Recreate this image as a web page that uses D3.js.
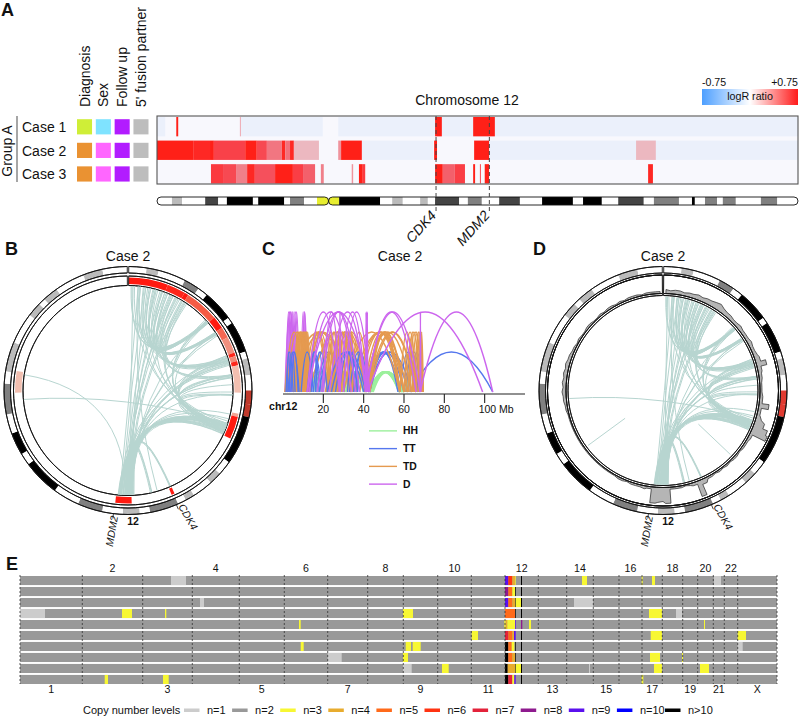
<!DOCTYPE html>
<html><head><meta charset="utf-8">
<script src="https://cdnjs.cloudflare.com/ajax/libs/d3/7.8.5/d3.min.js"></script>
<style>
html,body{margin:0;padding:0;background:#fff}
svg{display:block}
text{font-family:"Liberation Sans",Arial,sans-serif;fill:#111}
</style></head><body>
<svg id="c" width="800" height="717"></svg>
<script>
// ---------- Panel A data ----------
const cases = ["Case 1","Case 2","Case 3"];
const annotationColumns = ["Diagnosis","Sex","Follow up","5' fusion partner"];
const annotationColors = [
  ["#cfee37","#7fe3ff","#b21cff","#bdbdbd"],
  ["#ea9232","#ff66ff","#b21cff","#bdbdbd"],
  ["#ea9232","#ff66ff","#b21cff","#bdbdbd"]];
// [start Mb, end Mb, logR]
const case1Segments = [[0,1.7,-.05],[17.4,34.4,-.05],[37.6,133,-.05],[4,4.4,.75],[17.2,17.4,.25],[57.7,59.1,.75],[65.6,70.1,.75]];
const case2Segments = [[42.5,57.3,-.05],[68.9,133,-.05],[0,7.5,.75],[7.5,11,.72],[11,11.8,.75],[11.8,18.3,.6],[18.3,20.7,.75],[20.7,22.8,.55],[22.8,25.9,.38],[25.9,26.6,.72],[26.6,27.6,.4],[27.6,28.4,.72],[28.4,33.6,.2],[37.6,38.2,.3],[38.2,42.5,.75],[57.5,58.1,.75],[65.8,68.9,.75],[99.4,103.5,.2]];
const case3Segments = [[11.2,13.7,.65],[13.7,16.4,.55],[16.4,18.7,.35],[18.7,20.3,.72],[20.3,24.5,.5],[24.5,28.2,.75],[28.2,30.3,.62],[30.3,32.8,.45],[34,34.6,.35],[40.4,40.7,.3],[41.9,42.7,.75],[42.7,43.2,.65],[57.7,59.3,.75],[59.3,61.8,.45],[61.8,63.9,.62],[65.6,66,.75],[67,67.2,.6],[68,68.9,.75],[101.9,102.9,.72]];
// cytobands of chromosome 12: [start Mb, end Mb, stain]
const cytobands = [[0,3.1,"w"],[3.1,5.2,"g1"],[5.2,10,"w"],[10,12.7,"g3"],[12.7,14.5,"w"],[14.5,19.9,"k"],[19.9,21,"w"],[21,26.4,"k"],[26.4,27.6,"w"],[27.6,30.5,"g2"],[30.5,33.2,"w"],[33.2,35.6,"c"],[35.6,37.8,"c"],[37.8,46.3,"k"],[46.3,48.8,"w"],[48.8,51,"g1"],[51,54.6,"w"],[54.6,56.2,"g1"],[56.2,57.7,"w"],[57.7,62.7,"g3"],[62.7,64.5,"w"],[64.5,67.4,"g2"],[67.4,71,"w"],[71,75.3,"g3"],[75.3,79.9,"w"],[79.9,86.3,"k"],[86.3,88.4,"w"],[88.4,92.3,"k"],[92.3,95.7,"w"],[95.7,101,"g3"],[101,103.1,"w"],[103.1,108.3,"g2"],[108.3,111,"w"],[111,111.6,"k"],[111.6,113.7,"w"],[113.7,116.2,"g2"],[116.2,117.4,"w"],[117.4,120.1,"g2"],[120.1,125.3,"w"],[125.3,128.7,"g2"],[128.7,133,"w"]];
const centromereMb = 35.6, chr12Length = 133, cdk4Mb = 58, mdm2Mb = 69;

// ---------- Panels B / D data: rearrangement links [Mb, Mb] ----------
const linksFan = [[0.5,18],[0.7,18.3],[0.9,66],[1.9,17.8],[2.4,18.1],[2.4,21],[3.5,18],[3.5,20.8],[3.9,27],[4.5,18.2],[4.5,21.2],[5,26.5],[5.5,18],[5.5,21],[6,27],[6.5,18.4],[7,20.9],[7,26.8],[7.5,18],[8.1,21.3],[8.1,30],[8.6,18.2],[9.3,20.7],[9.3,27.2],[9.8,30.2],[10.2,21],[10.5,26.3],[10.8,18],[11.2,27.5],[11.4,40.5],[11.8,30.5],[12.2,41],[12.5,26.6],[1.2,40.8],[3,41.5],[5.2,40],[6.8,66],[8.8,66.5],[10,67],[4.2,65.5],[2.2,60.5],[7.8,41.8]];
const linksMid = [[17.5,40.5],[17.8,41],[18.3,41.5],[21,40.8],[21.5,66],[26,41],[26.5,41.3],[27,41.5],[27.3,67],[27.6,65.8],[27.8,40.5],[30,41],[30.2,41.7],[30.5,66.5],[32,41.8],[34,40.2],[34.2,42],[33.5,39.5]];
const linksToMdm2 = [[40,65.8],[40.3,66],[40.6,66.3],[40.9,66.5],[41.2,66.8],[41.5,67],[41.8,67.2],[42,67.5],[42.2,67.8],[41,66],[40.5,68],[41.7,68.4],[42.3,65.5],[12,65.8],[11.5,66.2],[9,66.6],[7.5,67],[5.7,67.4],[3.2,67.8],[2,68.2],[27,65.5],[30,65.9],[34,66.3],[38,66.7],[39,67.1],[30.6,67.5],[28,67.9],[26,68.3],[21,65.6],[40,68.1],[18,65.3],[41,68.5],[40.5,68],[57.7,66],[57.8,67.5],[57.6,65.8],[61.7,67],[61.6,66.5],[61.9,68]];
const linksLeftB = [[103,67],[40,98]];
const linksLeftD = [[40,98]];
const stubsD = [[86.4,0.5],[49.3,0.52]]; // [Mb, inner radius fraction]
// read depth around the ring in D, one value per Mb bin
const coverage = [4,3,4,4,3,4,4,5,4,5,5,6,7,5,4,4,3,3,4,3,3,3,4,3,3,4,5,10,4,3,3,2,2,2,3,3,10,3,3,6,10,15,17,3,2,2,2,1,2,2,1,2,1,2,1,2,2,5,16,3,2,1,2,2,2,16,14,15,16,2,3,2,2,2,1,2,2,1,1,1,1,1,1,1,1,1,1,1,1,1,1,1,1,1,1,2,2,3,3,4,3,4,3,4,3,4,3,3,2,2,1,2,1,1,2,2,1,1,2,1,2,2,1,2,1,2,2,2,1,2,2,2,2];

// ---------- Panel C data: arcs [Mb, Mb] per orientation ----------
const arcTypes = ["HH","TT","TD","D"];
const arcColors = {HH:"#9cf09c",TT:"#5577ee",TD:"#e59a50",D:"#cc66ee"};
const arcLevels = {HH:1,TT:2,TD:3,D:4};
const arcWidths = {HH:2,TT:1.4,TD:1.6,D:1.5};
const arcsHH = [[1,12],[3,14],[5,17],[8,18],[9,17.5],[12,20],[13,24],[15,25],[18,29],[19,26],[22,34],[24,36],[27,40],[28,41],[29,41.5],[30,41],[31,42],[43,58],[42.5,58.3],[43.6,58.6],[43,57.6],[43.3,57.5],[42.8,59.2],[44,59],[42.6,59.5],[44.6,58],[43,60],[60,66],[61,67]];
const arcsTTUnder = [[17,28],[18,29],[20,27],[41,58],[42,58],[43,57],[42,60],[43,62],[42,64],[58,66],[60,65],[61,67],[62,68],[63,66],[64,69],[65,67.5],[63,104]];
const arcsTTOver = [[1.5,5],[2,3.5],[2.5,8],[3,6],[4,7.5],[9,15],[12,19],[13,18],[14,17],[15,22],[16,20],[22,40],[24,41],[26,38],[28,36],[30,36],[32,37],[33,42],[35,42],[36,41]];
const arcsTD = [[1,10],[2,12],[5,11],[5.5,12],[6,8],[6,11],[6.5,9],[7,10],[7,12],[7.5,11],[8,10],[8,13],[8.5,12],[9,11],[9,13.5],[9.5,12],[10,13],[10,13.5],[10.5,12.5],[11,13.5],[11,22],[12,23],[12,27],[13,24],[13,22],[22,25],[23,28],[24,30],[25,29],[26,30],[27,34],[21,41],[22,28],[24,41],[25,34],[26,33.5],[27,41],[28,33],[30,34],[32,34],[33,34.5],[33.2,34.8],[33.4,35],[33.6,42],[34,62],[36,60],[38,58],[40,64],[41,60],[42,60],[42,58],[43,58],[42,66],[40,58],[43,66],[58,65],[60,66],[61,68],[62,69],[63,65],[64,68.5],[65,69.5],[66,69],[67,69.3],[68,69.5],[2,34],[5,34],[13,41],[30,58]];
const arcsDNarrow = [[1.5,4],[2,4.5],[2.5,5],[3,6],[3.5,5.5],[4,7],[5,7.5],[5.5,8],[9,11],[9.5,12],[10,11.5],[1,6]];
const arcsDWide = [[12,28],[13,34],[17,38],[20,28.2],[23,41],[28,41],[19,36],[12,43],[41,68],[41.3,66],[28.1,28.4],[41,41.4],[41.3,41.8],[41.6,42],[68,68.3],[42,99],[68,104],[30,43]];
const chrCTicks = [20,40,60,80,100];

// ---------- Panel E data ----------
const chromNames = ["1","2","3","4","5","6","7","8","9","10","11","12","13","14","15","16","17","18","19","20","21","22","X"];
const chromSpans = [62.3,60.4,49.6,47,45,43.4,40,35.6,34.4,33.6,33.7,33.3,28.4,26.6,25.7,23,20.3,20.4,15,15.6,11,13.4,39.3];
const cnLabels = ["n=1","n=2","n=3","n=4","n=5","n=6","n=7","n=8","n=9","n=10","n>10"];
const cnColors = ["#cccccc","#999999","#f7f733","#e8ac2e","#ff6a1a","#ff3311","#e3223a","#8e1a8e","#5a10ee","#0000ff","#000000"];
const sampleCount = 10;
// [sample, start, end, level] along the concatenated genome
const cnEvents = [
 [0,151,166,1],[0,562,567,3],[0,621.7,622.7,3],[0,632,635,3],[0,694,701,1],
 [2,554,573,1],[2,180,184,1],
 [3,0,25,1],[3,102,112,3],[3,145,146.3,3],[3,383,393,3],[3,629,642,3],[3,656,662,1],
 [4,279,280.7,3],[4,509,511,3],[4,684,685,3],
 [5,451.7,458,3],[5,630.7,642,3],[5,717.7,726,3],
 [6,280.7,283.7,3],[6,385.7,391,3],[6,392.7,400.7,3],[6,717.7,722.7,1],
 [7,307.7,321.7,1],[7,383,388,3],[7,630,640,3],[7,662,663,3],
 [8,383,391.7,1],[8,422,428.7,3],[8,569,570,1],[8,634,642,3],[8,680,689,3],
 [9,84.7,88,3],[9,143,148.7,3],[9,621.7,623.3,3]];
const cnChr12 = [
 [0,485,488.3,9],[0,488.3,492.3,6],[0,492.3,495,4],[0,495,495.7,3],[0,501,502,11],
 [1,485,488.3,8],[1,488.3,492.3,5],[1,492.3,495,3],[1,495,495.7,11],[1,501,502,11],
 [2,485,488.3,9],[2,488.3,492.3,5],[2,492.3,495,4],[2,495,495.7,11],[2,495.7,501,3],[2,501,502,11],
 [3,485,495,5],[3,495,495.7,11],[3,501,502,11],
 [4,484.3,485.7,3],[4,485.7,487.3,4],[4,487.3,489,3],[4,489,495,3],[4,495,495.7,9],[4,501,502.3,8],
 [5,485,488.3,7],[5,488.3,492.3,5],[5,492.3,494,4],[5,494,495.7,9],[5,501,502,11],
 [6,485,488.3,11],[6,488.3,491.7,5],[6,491.7,494.3,3],[6,495,495.7,11],[6,501,502,11],
 [7,485,488.3,11],[7,488.3,492.3,5],[7,492.3,495,4],[7,495,495.7,11],[7,501,502,11],
 [8,485,487.7,11],[8,487.7,495,4],[8,495,495.7,11],[8,495.7,501,3],[8,501,502,11],
 [9,485,488.3,11],[9,488.3,492.3,7],[9,492.3,494.3,3],[9,494.3,495.7,9],[9,501,502,11]];

// ---------- drawing ----------
const svg = d3.select("#c");
const txt = (g,x,y,s,size,o={}) => {
  const t = g.append("text").attr("x",x).attr("y",y).attr("font-size",size).attr("text-anchor",o.anchor||"start").text(s);
  if(o.bold) t.attr("font-weight","bold");
  if(o.italic) t.attr("font-style","italic");
  if(o.rot!==undefined) t.attr("transform",`rotate(${o.rot} ${x} ${y})`);
  return t;
};
[["A",1,16],["B",5,255],["C",262,255],["D",533,255],["E",6,570]].forEach(d=>txt(svg,d[1],d[2],d[0],18,{bold:true}));

const stainColor = {w:"#ffffff",g1:"#bbbbbb",g2:"#808080",g3:"#444444",k:"#000000",c:"#e8ee30"};
const logRColor = d3.scaleLinear().domain([-.75,-.05,0,.2,.35,.5,.65,.75]).range(["#4d9fff","#ebf0fb","#f7f7fc","#ecb8c0","#f0808a","#f5505c","#fb3a3f","#ff2018"]);

// ---- Panel A
const gA = svg.append("g");
const xA = d3.scaleLinear().domain([0,chr12Length]).range([157,798]);
const rowA = d3.scaleBand().domain(cases).range([117,183.5]).paddingInner(.18);
const colA = d3.scaleBand().domain(annotationColumns).range([77,148.5]).paddingInner(.2);
gA.append("rect").attr("x",xA(0)).attr("y",116).attr("width",xA(chr12Length)-xA(0)).attr("height",68).attr("fill","#f8f8fd");
[case1Segments,case2Segments,case3Segments].forEach((segs,i)=>{
  gA.append("g").selectAll("rect").data(segs).join("rect")
    .attr("x",d=>xA(d[0])).attr("width",d=>xA(d[1])-xA(d[0]))
    .attr("y",rowA(cases[i])).attr("height",rowA.bandwidth()).attr("fill",d=>logRColor(d[2]));
  txt(gA,22,rowA(cases[i])+15,cases[i],14);
  annotationColumns.forEach((c,j)=>{
    gA.append("rect").attr("x",colA(c)).attr("y",rowA(cases[i])+2.2).attr("width",colA.bandwidth()).attr("height",15.2).attr("fill",annotationColors[i][j]);
  });
});
gA.append("rect").attr("x",xA(0)).attr("y",116).attr("width",xA(chr12Length)-xA(0)).attr("height",68).attr("fill","none").attr("stroke","#555").attr("stroke-width",1.1);
annotationColumns.forEach(c=>txt(gA,colA(c)+colA.bandwidth()/2+5,107,c,14,{rot:-90}));
txt(gA,12,151,"Group A",14,{rot:-90,anchor:"middle"});
gA.append("line").attr("x1",17).attr("x2",17).attr("y1",116).attr("y2",182).attr("stroke","#888").attr("stroke-width",1.5);
txt(gA,467,105,"Chromosome 12",14,{anchor:"middle"});
// ideogram with rounded arms
const defs = svg.append("defs");
const clip = defs.append("clipPath").attr("id","arms");
[[0,centromereMb],[centromereMb,chr12Length]].forEach(a=>{
  clip.append("rect").attr("x",xA(a[0])).attr("y",197).attr("width",xA(a[1])-xA(a[0])).attr("height",8).attr("rx",4);
});
gA.append("g").attr("clip-path","url(#arms)").selectAll("rect").data(cytobands).join("rect")
  .attr("x",d=>xA(d[0])).attr("width",d=>xA(d[1])-xA(d[0])).attr("y",197).attr("height",8).attr("fill",d=>stainColor[d[2]]);
[[0,centromereMb],[centromereMb,chr12Length]].forEach(a=>{
  gA.append("rect").attr("x",xA(a[0])).attr("y",197).attr("width",xA(a[1])-xA(a[0])).attr("height",8).attr("rx",4).attr("fill","none").attr("stroke","#111").attr("stroke-width",.9);
});
// gene guides
[[cdk4Mb,"CDK4"],[mdm2Mb,"MDM2"]].forEach(d=>{
  const xg = d[0]===cdk4Mb ? xA(d[0])-.5 : xA(d[0])-.2;
  gA.append("line").attr("x1",xg).attr("x2",xg).attr("y1",116).attr("y2",214).attr("stroke","#444").attr("stroke-width",1).attr("stroke-dasharray","4 3");
  txt(gA,xg+1,216,d[1],14,{italic:true,anchor:"end",rot:-48});
});
// logR legend
const grad = defs.append("linearGradient").attr("id","lr");
[["0%","#4d9fff"],["50%","#ffffff"],["100%","#ff1a1a"]].forEach(s=>grad.append("stop").attr("offset",s[0]).attr("stop-color",s[1]));
gA.append("rect").attr("x",702).attr("y",89).attr("width",96).attr("height",16).attr("fill","url(#lr)");
txt(gA,702,86,"-0.75",10.6);
txt(gA,798,86,"+0.75",10.6,{anchor:"end"});
txt(gA,750,100,"logR ratio",10.7,{anchor:"middle"});

// ---- Circular panels
const angle = d3.scaleLinear().domain([0,chr12Length]).range([0.006,2*Math.PI-0.006]);
const polar = (mb,r)=>[r*Math.sin(angle(mb)),-r*Math.cos(angle(mb))];
const ringBands = cytobands.filter(d=>d[1]-d[0]>1);
const ringRed = d3.scaleLinear().domain([0,.2,.4,.6,.75]).range(["#fff","#f2bfb0","#f08a78","#f55c45","#ff1a10"]);
function ideoRing(g,r0,r1,fillOf,data){
  g.append("g").selectAll("path").data(data).join("path")
    .attr("d",d=>d3.arc()({innerRadius:r0,outerRadius:r1,startAngle:angle(d[0]),endAngle:angle(d[1])}))
    .attr("fill",fillOf);
}
function ringOutline(g,r0,r1,sw=.9){
  [r0,r1].forEach(r=>g.append("path").attr("d",d3.arc()({innerRadius:r,outerRadius:r,startAngle:angle(0),endAngle:angle(chr12Length)})).attr("fill","none").attr("stroke","#111").attr("stroke-width",sw));
  [0,chr12Length].forEach(m=>{
    const a=polar(m,r0),b=polar(m,r1);
    g.append("path").attr("d",d3.line()([a,b])).attr("stroke","#111").attr("stroke-width",sw).attr("fill","none");
  });
}
function linkPath(d,R){
  const aa=angle(d[0]),bb=angle(d[1]),p0=polar(d[0],R),p1=polar(d[1],R);
  const m=(aa+bb)/2,cr=R*.02,p=d3.path();
  p.moveTo(p0[0],p0[1]);
  p.quadraticCurveTo(cr*Math.sin(m),-cr*Math.cos(m),p1[0],p1[1]);
  return p.toString();
}
function drawLinks(g,links,R){
  g.append("g").selectAll("path").data(links).join("path").attr("d",d=>linkPath(d,R))
   .attr("fill","none").attr("stroke","#b7d5d0").attr("stroke-width",1);
}
function geneTick(g,mb,r0,r1){
  g.append("path").attr("d",d3.line()([polar(mb,r0),polar(mb,r1)])).attr("stroke","#111").attr("stroke-width",.8);
}
function circleLabels(g){
  txt(g,0,-129.5,"Case 2",14,{anchor:"middle"});
  txt(g,5,134.5,"12",10.5,{bold:true,anchor:"middle"});
  txt(g,-10,126,"MDM2",10.5,{italic:true,anchor:"end",rot:-80});
  txt(g,50,116,"CDK4",10.5,{italic:true,rot:60});
}
const ringGreys = {w:"#ffffff",g1:"#bbbbbb",g2:"#bbbbbb",g3:"#808080",k:"#000000"};
// Panel B
const gB = svg.append("g").attr("transform","translate(128,390.5)");
ideoRing(gB,117.5,124,d=>d[2]==="c"?"#c0392b":ringGreys[d[2]],ringBands);
ringOutline(gB,117.5,124);
ideoRing(gB,106.5,113,d=>ringRed(d[2]),case2Segments.filter(d=>d[2]>0));
ringOutline(gB,105,114.5);
drawLinks(gB,[...linksFan,...linksMid,...linksToMdm2,...linksLeftB],104.5);
geneTick(gB,mdm2Mb,124,129);geneTick(gB,cdk4Mb,124,129);
circleLabels(gB);
// Panel D
const gD = svg.append("g").attr("transform","translate(663,390.5)");
ideoRing(gD,117.5,124,d=>d[2]==="c"?"#e03a30":ringGreys[d[2]],ringBands);
ringOutline(gD,117.5,124);
ringOutline(gD,115.5,115.5,.9);
gD.append("path").attr("d",d3.line()([polar(0,97),polar(0,115.5)])).attr("stroke","#111").attr("stroke-width",1);
gD.append("path").attr("d",d3.line()([polar(chr12Length,97),polar(chr12Length,115.5)])).attr("stroke","#111").attr("stroke-width",1);
// sharp steps where depth jumps, plain joins elsewhere
const covPts = coverage.flatMap((v,i)=>{
  const next = coverage[i+1], prev = coverage[i-1];
  const jump = (next!==undefined && Math.abs(next-v)>=5) || (prev!==undefined && Math.abs(prev-v)>=5);
  return jump ? [[i,v],[i+1,v]] : [[i+.5,v]];
});
const covR = d3.scaleLinear().domain([0,17]).range([97,114]);
gD.append("path").datum(covPts).attr("d",d3.areaRadial().angle(d=>angle(d[0])).innerRadius(97).outerRadius(d=>covR(d[1])))
  .attr("fill","#b5b5b5").attr("stroke","#222").attr("stroke-width",.7);
ringOutline(gD,95,97,.9);
drawLinks(gD,[...linksFan,...linksMid,...linksToMdm2,...linksLeftD],94);
gD.append("g").selectAll("path").data(stubsD).join("path")
  .attr("d",d=>d3.line()([polar(d[0],93),polar(d[0],94*d[1])])).attr("stroke","#b7d5d0").attr("stroke-width",1);
geneTick(gD,mdm2Mb,124,129);geneTick(gD,cdk4Mb,124,129);
circleLabels(gD);

// ---- Panel C
const gC = svg.append("g");
const xC = d3.scaleLinear().domain([0,120]).range([283,525]);
const yC = d3.scaleLinear().domain([0,4]).range([392,312]);
[["HH",arcsHH],["TT",arcsTTUnder],["D",arcsDNarrow],["TD",arcsTD],["TT",arcsTTOver],["D",arcsDWide]].forEach(([type,arcs])=>{
  gC.append("g").selectAll("path").data(arcs).join("path").attr("d",d=>{
    const p=d3.path();
    p.moveTo(xC(d[0]),yC(0));
    p.quadraticCurveTo((xC(d[0])+xC(d[1]))/2,yC(2*arcLevels[type]),xC(d[1]),yC(0));
    return p.toString();
  }).attr("fill","none").attr("stroke",arcColors[type]).attr("stroke-width",arcWidths[type]);
});
gC.append("line").attr("x1",xC(0)).attr("x2",xC(120)).attr("y1",394).attr("y2",394).attr("stroke","#222").attr("stroke-width",1.2);
gC.append("g").selectAll("line").data(chrCTicks).join("line").attr("x1",xC).attr("x2",xC).attr("y1",394).attr("y2",403).attr("stroke","#222").attr("stroke-width",1.1);
chrCTicks.forEach(t=>{
  if(t===100) txt(gC,xC(t)-6,413,"100 Mb",10.5);
  else txt(gC,xC(t),413,String(t),10.5,{anchor:"middle"});
});
txt(gC,269,410,"chr12",10.6,{bold:true});
txt(gC,400,261,"Case 2",14,{anchor:"middle"});
const legC = d3.scaleBand().domain(arcTypes).range([422,493]);
arcTypes.forEach(t=>{
  const y=legC(t)+legC.bandwidth()/2;
  gC.append("line").attr("x1",369).attr("x2",397).attr("y1",y).attr("y2",y).attr("stroke",arcColors[t]).attr("stroke-width",1.4);
  txt(gC,403,y+3.5,t,10.4,{bold:true});
});

// ---- Panel E
const gE = svg.append("g");
const genomeLen = d3.sum(chromSpans);
const xE = d3.scaleLinear().domain([0,genomeLen]).range([20,777]);
const rowE = d3.scaleBand().domain(d3.range(sampleCount)).range([576,684]).paddingInner(.175);
gE.append("g").selectAll("rect").data(d3.range(sampleCount)).join("rect")
  .attr("x",xE(0)).attr("width",xE(genomeLen)-xE(0)).attr("y",d=>rowE(d)).attr("height",rowE.bandwidth()).attr("fill",cnColors[1]);
gE.append("g").selectAll("rect").data([...cnEvents,...cnChr12]).join("rect")
  .attr("x",d=>xE(d[1])).attr("width",d=>xE(d[2])-xE(d[1])).attr("y",d=>rowE(d[0])).attr("height",rowE.bandwidth()).attr("fill",d=>cnColors[d[3]-1]);
const ends = [0,...d3.cumsum(chromSpans)];
gE.append("g").selectAll("line").data(ends).join("line").attr("x1",xE).attr("x2",xE).attr("y1",575).attr("y2",684)
  .attr("stroke","#333").attr("stroke-width",.8).attr("stroke-dasharray","2 2");
chromNames.forEach((c,i)=>{
  const x=xE((ends[i]+ends[i+1])/2);
  txt(gE,x,i%2?572:693,c,10.6,{anchor:"middle"});
});
txt(gE,83,713.5,"Copy number levels",11);
const legE = d3.scaleLinear().domain([0,10]).range([184,665]);
cnLabels.forEach((l,i)=>{
  gE.append("rect").attr("x",legE(i)).attr("y",708.5).attr("width",15.5).attr("height",3.5).attr("fill",cnColors[i]);
  txt(gE,legE(i)+23,713.5,l,11);
});
</script>
</body></html>
